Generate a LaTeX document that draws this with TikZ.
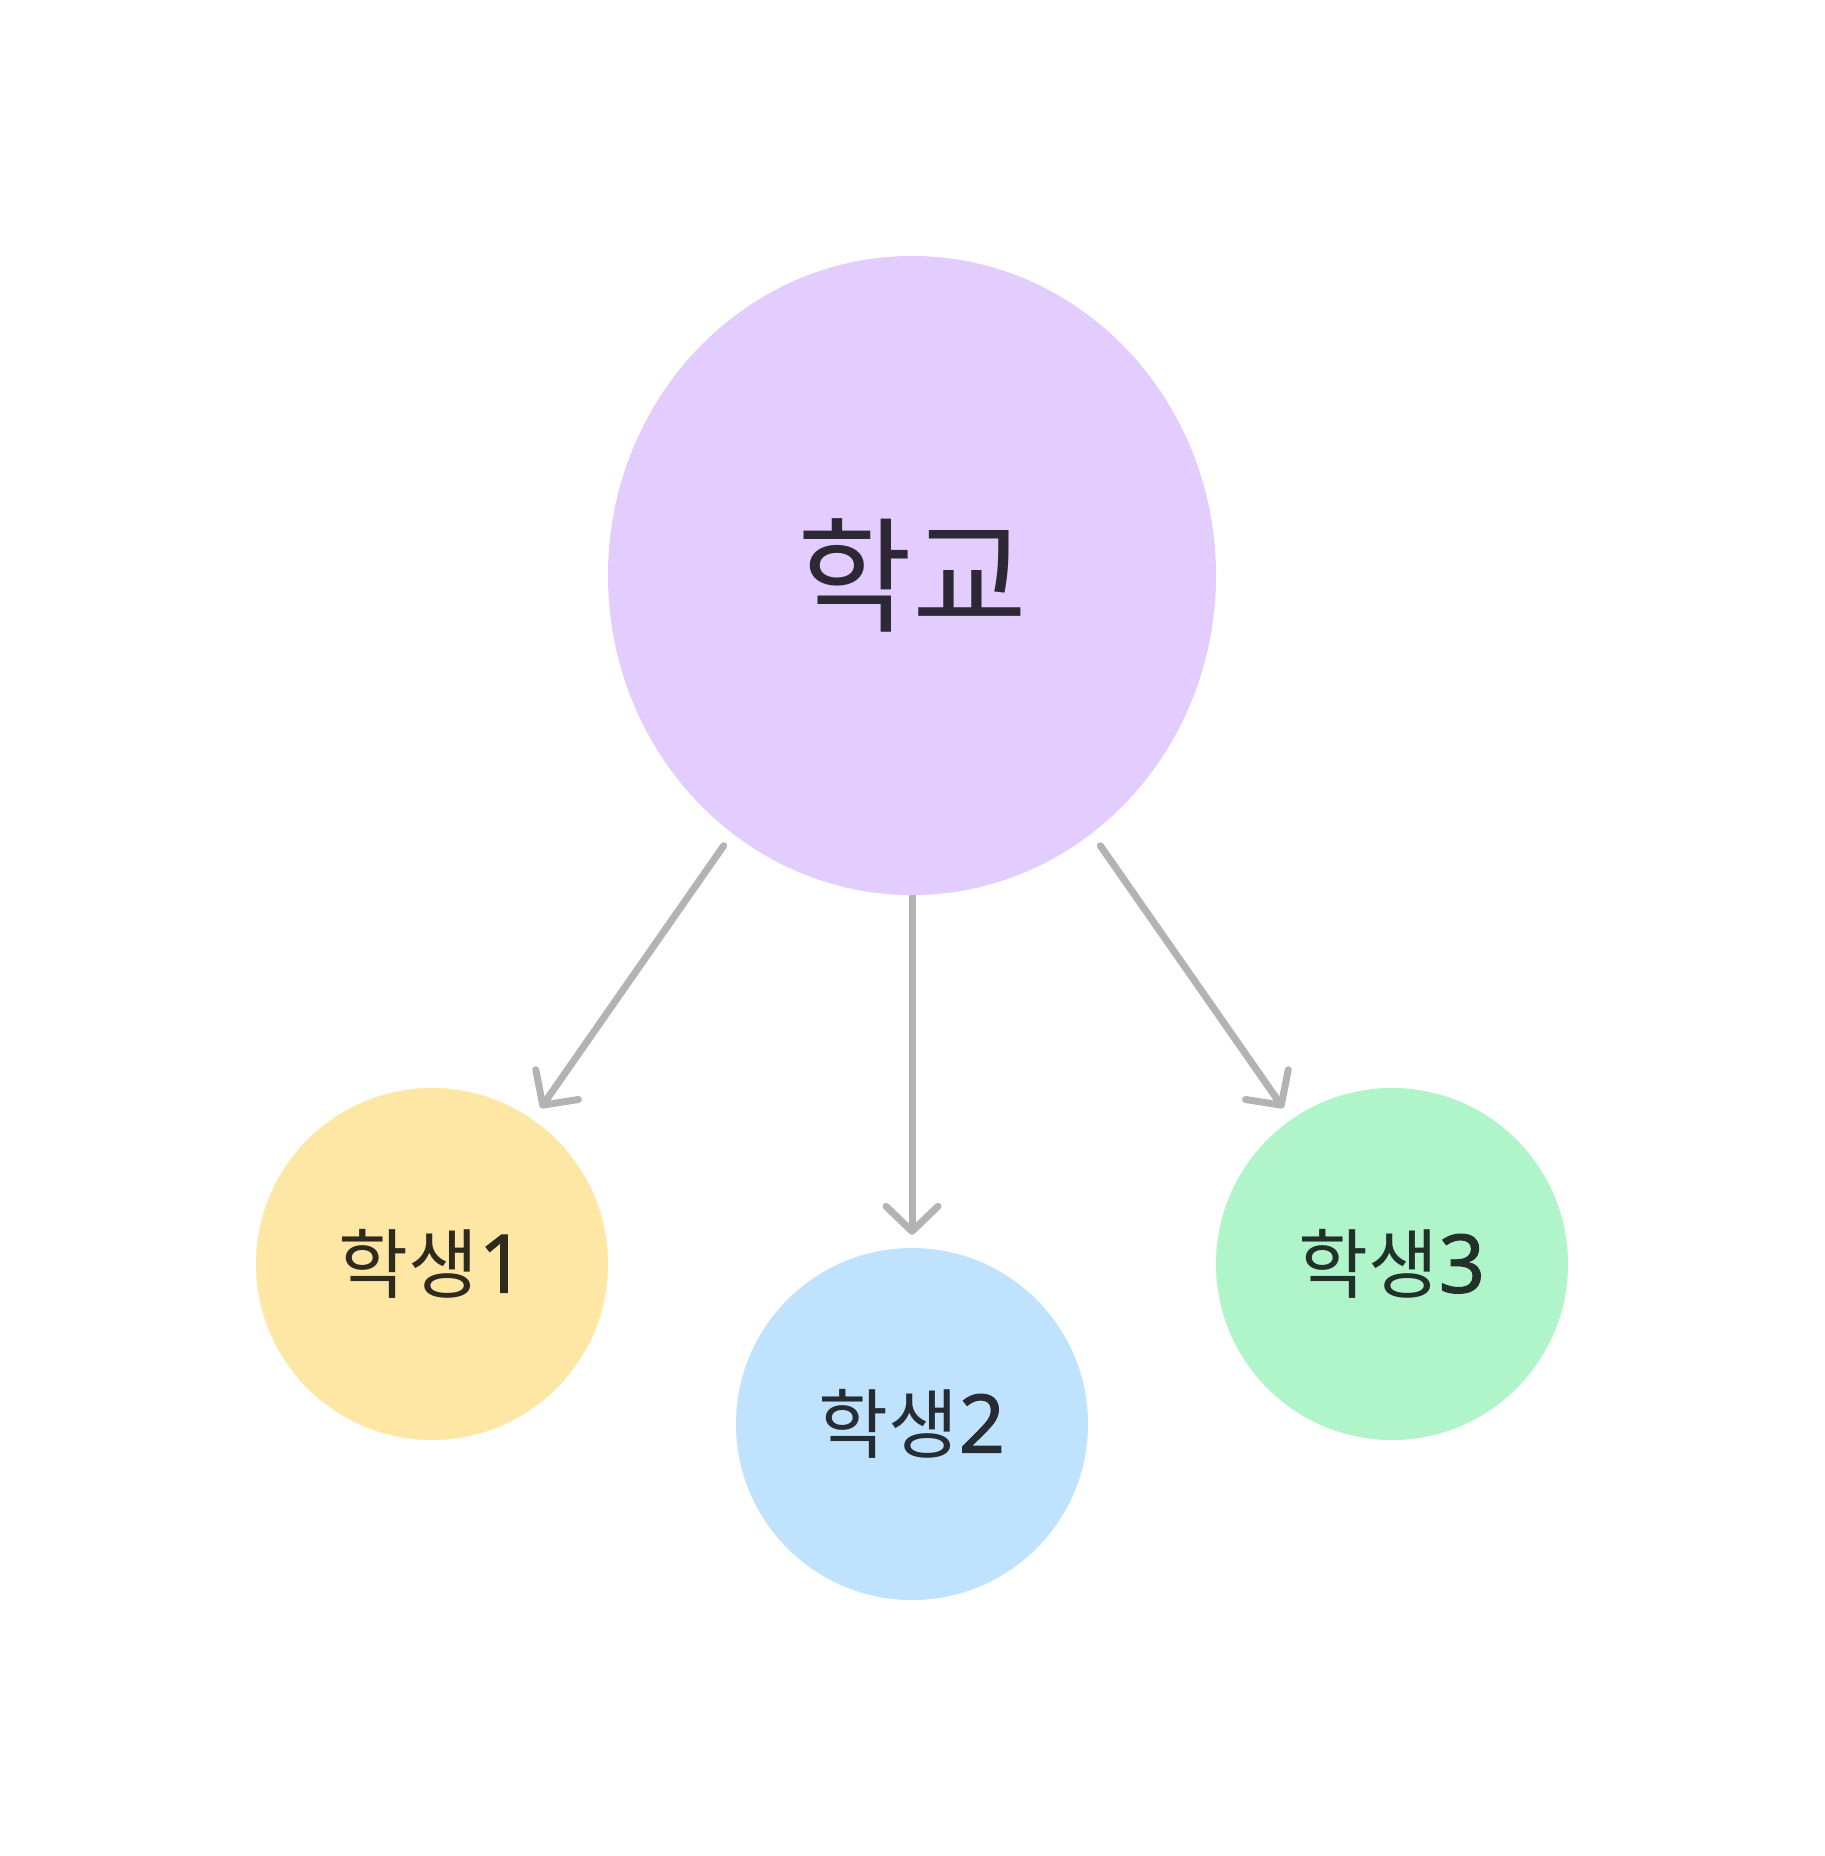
\documentclass[tikz,border=0pt]{standalone}
\usepackage{fontspec}
\setmainfont{Noto Sans CJK KR}
\newfontfamily\digitfont[FakeBold=1.2]{Noto Sans}
\usetikzlibrary{shapes.geometric,arrows.meta}
\pgfdeclarelayer{bottom}
\pgfdeclarelayer{background}
\pgfsetlayers{bottom,background,main}
\definecolor{mainfill}{HTML}{E3CCFE}
\definecolor{mainink}{HTML}{2E2836}
\definecolor{yfill}{HTML}{FEE7A5}
\definecolor{yink}{HTML}{2F2A1E}
\definecolor{bfill}{HTML}{BFE3FE}
\definecolor{bink}{HTML}{262C33}
\definecolor{gfill}{HTML}{AFF5C9}
\definecolor{gink}{HTML}{22302A}
\definecolor{edgegray}{HTML}{B3B3B3}
\newcommand{\dg}[1]{{\digitfont\fontsize{81}{90}\selectfont #1}}
\tikzset{
  rootnode/.style={ellipse, fill=mainfill, text=mainink, draw=none, inner sep=0pt,
    minimum width=608pt, minimum height=639pt, font=\fontsize{125}{140}\selectfont},
  leafnode/.style={circle, draw=none, inner sep=0pt, minimum size=352pt,
    font=\fontsize{76}{90}\selectfont},
  link/.style={draw=edgegray, line width=7pt, line cap=round, line join=round,
    -{Straight Barb[length=25pt,width=52pt,round]}}
}
\begin{document}
\begin{tikzpicture}[x=1pt,y=-1pt]
\begin{pgfonlayer}{bottom}
\fill[white] (0,0) rectangle (1824,1856);
\end{pgfonlayer}
\useasboundingbox (0,0) rectangle (1824,1856);
\node[rootnode] (school) at (912,575.5) {학교};
\node[leafnode, fill=yfill, text=yink] (s1) at (432,1264) {학생\dg{1}};
\node[leafnode, fill=bfill, text=bink] (s2) at (912,1424) {학생\dg{2}};
\node[leafnode, fill=gfill, text=gink] (s3) at (1392,1264) {학생\dg{3}};
\begin{pgfonlayer}{background}
\draw[link, shorten <=15pt, shorten >=14pt] (school) -- (s1);
\draw[link, shorten <=0pt, shorten >=13pt] (school) -- (s2);
\draw[link, shorten <=15pt, shorten >=14pt] (school) -- (s3);
\end{pgfonlayer}
\end{tikzpicture}
\end{document}
